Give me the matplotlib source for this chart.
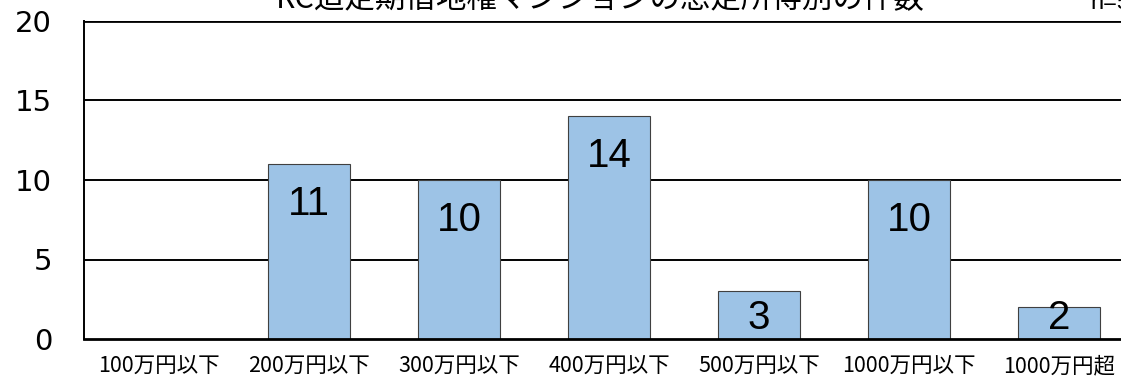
import matplotlib
matplotlib.use("Agg")
import matplotlib.pyplot as plt
from matplotlib import font_manager

categories = ["100万円以下", "200万円以下", "300万円以下", "400万円以下",
              "500万円以下", "1000万円以下", "1000万円超"]
counts = [0, 11, 10, 14, 3, 10, 2]
y_ticks = [0, 5, 10, 15, 20]
title_text = "RC造定期借地権マンションの想定所得別の件数"
n_text = "n=50"

W, H = 1121, 382
fig = plt.figure(figsize=(W / 100, H / 100), dpi=100)
# axes spans past the right edge of the figure
left, right, top, bottom = 84, 1134, 21, 339
ax = fig.add_axes([left / W, 1 - bottom / H, (right - left) / W, (bottom - top) / H])

jp = ["Noto Sans CJK JP", "DejaVu Sans"]
available = {f.name for f in font_manager.fontManager.ttflist}
narrow = "Liberation Sans"
for cand in ["Liberation Sans Narrow", "DejaVu Sans Condensed"]:
    if cand in available:
        narrow = cand
        break

x = list(range(len(categories)))
ax.bar(x, counts, width=0.55, color="#9DC3E6", edgecolor="#404040", linewidth=0.8, zorder=3)

ax.set_xlim(-0.5, len(categories) - 0.5)
ax.set_ylim(0, 20)
ax.set_yticks(y_ticks)
ax.set_yticklabels([str(t) for t in y_ticks], fontsize=21, family="DejaVu Sans")
ax.tick_params(axis="y", length=0, pad=23)
ax.set_xticks(x)
ax.set_xticklabels(categories, fontsize=15.5, family=jp)
ax.tick_params(axis="x", length=0, pad=12)

for t in y_ticks[1:]:
    ax.axhline(t, color="black", linewidth=1.4 if t < 20 else 2.0, zorder=2)
for s in ["top", "right"]:
    ax.spines[s].set_visible(False)
ax.spines["left"].set_linewidth(1.4)
ax.spines["bottom"].set_linewidth(2.0)
ax.spines["bottom"].set_zorder(4)

for xi, v in zip(x, counts):
    if v > 0:
        ax.text(xi, max(v - 2.5, 1.3), str(v), ha="center", va="center",
                fontsize=29, family=narrow, zorder=5)

fig.text(600 / W, 1 - 8 / H, title_text, ha="center", va="baseline",
         fontsize=22, family=jp)
fig.text(1090 / W, 1 - 9 / H, n_text, ha="left", va="baseline",
         fontsize=17, family=narrow)

fig.savefig("out.png", dpi=100)
